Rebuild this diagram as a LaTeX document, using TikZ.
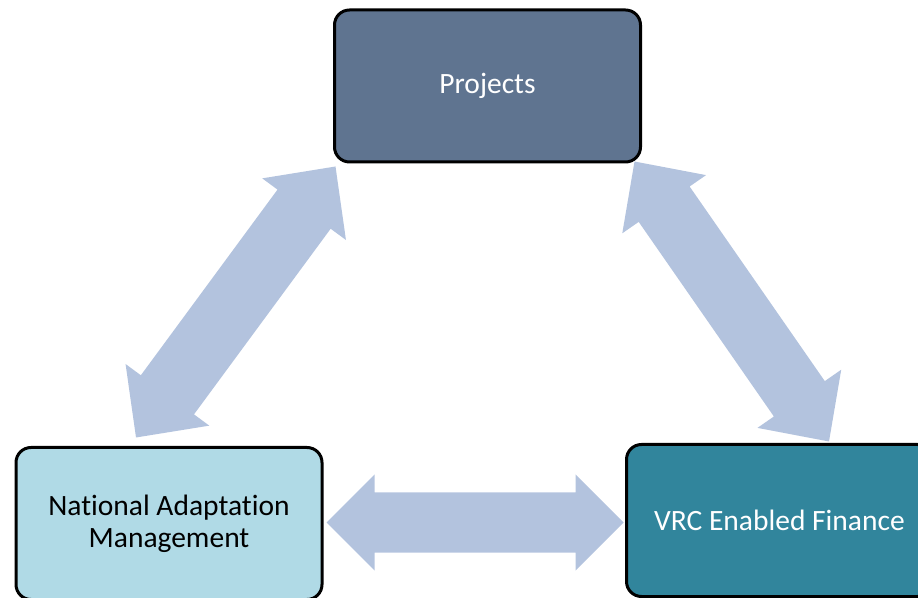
\documentclass[tikz,border=0pt]{standalone}
\usepackage{fontspec}
\setmainfont{Carlito}[Ligatures={NoCommon}]
\usetikzlibrary{calc}
\definecolor{projfill}{HTML}{5F7490}
\definecolor{namfill}{HTML}{B0DAE6}
\definecolor{vrcfill}{HTML}{31859C}
\definecolor{arrowfill}{HTML}{B3C3DE}
% #1 start, #2 end, #3 head length, #4 head half width, #5 shaft half width
\newcommand\dblarrow[5]{%
  \fill[arrowfill] (#1)
    -- ($(#1)!#3!(#2)!#4!90:(#2)$)
    -- ($(#1)!#3!(#2)!#5!90:(#2)$)
    -- ($(#2)!#3!(#1)!#5!-90:(#1)$)
    -- ($(#2)!#3!(#1)!#4!-90:(#1)$)
    -- (#2)
    -- ($(#2)!#3!(#1)!#4!90:(#1)$)
    -- ($(#2)!#3!(#1)!#5!90:(#1)$)
    -- ($(#1)!#3!(#2)!#5!-90:(#2)$)
    -- ($(#1)!#3!(#2)!#4!-90:(#2)$)
    -- cycle;}
\begin{document}
\begin{tikzpicture}[x=1pt,y=1pt,
  box/.style={draw=black, line width=3pt, rounded corners=15pt, inner sep=0pt,
    minimum width=306pt, minimum height=152pt, align=center,
    font=\fontsize{29.5}{32}\selectfont}]
\useasboundingbox (0,0) rectangle (918,597);
\clip (0,0) rectangle (918,597);
\node[box, fill=projfill, text=white] (proj) at (487.5,511) {Projects};
\node[box, fill=namfill, text=black] (nam) at (169,73.5) {National Adaptation\\Management};
\node[box, fill=vrcfill, text=white] (vrc) at (779.5,76.5) {VRC Enabled Finance};
\coordinate (l1) at ($(nam.north)+(-33,8.5)$);
\coordinate (l2) at ($(proj.south west)+(2.5,-3)$);
\coordinate (r1) at ($(proj.south east)+(-7.5,2)$);
\coordinate (r2) at ($(vrc.north)+(49.5,1.5)$);
\coordinate (h1) at ($(nam.east)+(3,1)$);
\coordinate (h2) at ($(vrc.west|-h1)+(-1.5,0)$);
\dblarrow{l1}{l2}{53pt}{52pt}{33pt}
\dblarrow{r1}{r2}{52pt}{51pt}{31pt}
\dblarrow{h1}{h2}{48pt}{48pt}{30pt}
\end{tikzpicture}
\end{document}
